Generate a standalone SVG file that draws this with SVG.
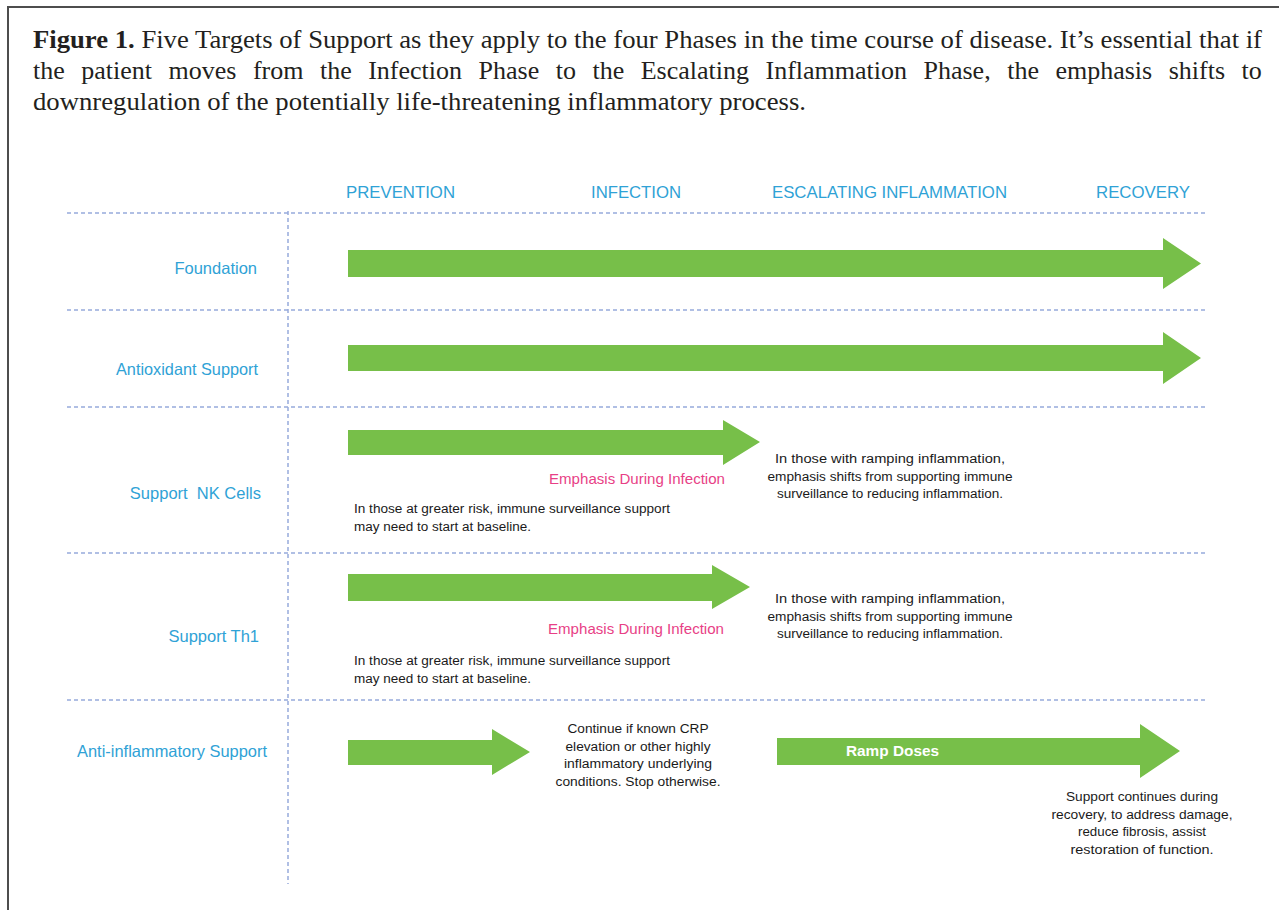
<svg xmlns="http://www.w3.org/2000/svg" width="1279" height="910" viewBox="0 0 1279 910">
  <style>
    .cap { font-family: "Liberation Serif", "Times New Roman", serif; font-size: 26px; fill: #231f20; }
    .phase { font-family: "Liberation Sans", Arial, sans-serif; font-size: 17px; fill: #2fa2d6; }
    .row { font-family: "Liberation Sans", Arial, sans-serif; font-size: 16.5px; fill: #2fa2d6; text-anchor: end; }
    .emph { font-family: "Liberation Sans", Arial, sans-serif; font-size: 15px; fill: #e83f86; }
    .note { font-family: "Liberation Sans", Arial, sans-serif; font-size: 12.5px; fill: #1a1a1a; }
    .mid { text-anchor: middle; }
    .grid { stroke: #96abdc; stroke-width: 1.5; stroke-dasharray: 4 3; fill: none; }
    .arrow { fill: #77bf49; }
    .ramp { font-family: "Liberation Sans", Arial, sans-serif; font-size: 15px; font-weight: bold; fill: #ffffff; }
  </style>

  <rect width="1279" height="910" fill="#ffffff"/>

  <!-- figure frame -->
  <g id="frame" stroke="#4d4d4d" stroke-width="2" fill="none">
    <line x1="7" y1="7" x2="1279" y2="7"/>
    <line x1="8" y1="6" x2="8" y2="910"/>
  </g>

  <!-- caption (justified lines) -->
  <g id="caption">
    <text class="cap" x="33" y="48" textLength="1229" lengthAdjust="spacingAndGlyphs"><tspan font-weight="bold">Figure 1.</tspan> Five Targets of Support as they apply to the four Phases in the time course of disease. It’s essential that if</text>
    <text class="cap" x="33" y="79" word-spacing="10">the patient moves from the Infection Phase to the Escalating Inflammation Phase, the emphasis shifts to</text>
    <text class="cap" x="33" y="110" textLength="773" lengthAdjust="spacingAndGlyphs">downregulation of the potentially life-threatening inflammatory process.</text>
  </g>

  <!-- grid -->
  <g id="grid" class="grid">
    <line x1="67" y1="213" x2="1205" y2="213"/>
    <line x1="67" y1="310" x2="1207" y2="310"/>
    <line x1="67" y1="407" x2="1205" y2="407"/>
    <line x1="67" y1="553" x2="1205" y2="553"/>
    <line x1="67" y1="700" x2="1207" y2="700"/>
    <line x1="288" y1="211" x2="288" y2="884"/>
  </g>

  <!-- phase headings -->
  <g id="phases">
    <text class="phase" x="346" y="198" textLength="109" lengthAdjust="spacingAndGlyphs">PREVENTION</text>
    <text class="phase" x="591" y="198" textLength="90" lengthAdjust="spacingAndGlyphs">INFECTION</text>
    <text class="phase" x="772" y="198" textLength="235" lengthAdjust="spacingAndGlyphs">ESCALATING INFLAMMATION</text>
    <text class="phase" x="1096" y="198" textLength="94" lengthAdjust="spacingAndGlyphs">RECOVERY</text>
  </g>

  <!-- connectors: support arrows -->
  <g id="connectors" class="arrow">
    <path id="arrow-foundation" d="M348,250 H1163 V238 L1201,263.5 L1163,289 V277 H348 Z"/>
    <path id="arrow-antioxidant" d="M348,345 H1163 V332 L1201,358 L1163,384 V371 H348 Z"/>
    <path id="arrow-nk" d="M348,430 H723 V420 L760,442 L723,465 V455 H348 Z"/>
    <path id="arrow-th1" d="M348,574 H712 V565 L750,587 L712,609 V601 H348 Z"/>
    <path id="arrow-anti" d="M348,740 H492 V729 L530,752 L492,775 V765 H348 Z"/>
    <path id="arrow-ramp" d="M777,738 H1140 V724 L1180,751 L1140,778 V765 H777 Z"/>
  </g>

  <!-- row: Foundation -->
  <g id="row-foundation">
    <text class="row" x="257" y="274">Foundation</text>
  </g>

  <!-- row: Antioxidant Support -->
  <g id="row-antioxidant">
    <text class="row" x="258" y="375" textLength="142" lengthAdjust="spacingAndGlyphs">Antioxidant Support</text>
  </g>

  <!-- row: Support NK Cells -->
  <g id="row-nk">
    <text class="row" x="261" y="499" xml:space="preserve">Support  NK Cells</text>
    <text class="emph" x="549" y="484" textLength="176" lengthAdjust="spacingAndGlyphs">Emphasis During Infection</text>
    <text class="note" x="354" y="513" textLength="316" lengthAdjust="spacingAndGlyphs">In those at greater risk, immune surveillance support</text>
    <text class="note" x="354" y="531" textLength="177" lengthAdjust="spacingAndGlyphs">may need to start at baseline.</text>
    <text class="note mid" x="890" y="463" textLength="230" lengthAdjust="spacingAndGlyphs">In those with ramping inflammation,</text>
    <text class="note mid" x="890" y="481" textLength="245" lengthAdjust="spacingAndGlyphs">emphasis shifts from supporting immune</text>
    <text class="note mid" x="890" y="498" textLength="226" lengthAdjust="spacingAndGlyphs">surveillance to reducing inflammation.</text>
  </g>

  <!-- row: Support Th1 -->
  <g id="row-th1">
    <text class="row" x="259" y="642">Support Th1</text>
    <text class="emph" x="548" y="634" textLength="176" lengthAdjust="spacingAndGlyphs">Emphasis During Infection</text>
    <text class="note" x="354" y="665" textLength="316" lengthAdjust="spacingAndGlyphs">In those at greater risk, immune surveillance support</text>
    <text class="note" x="354" y="683" textLength="177" lengthAdjust="spacingAndGlyphs">may need to start at baseline.</text>
    <text class="note mid" x="890" y="603" textLength="230" lengthAdjust="spacingAndGlyphs">In those with ramping inflammation,</text>
    <text class="note mid" x="890" y="621" textLength="245" lengthAdjust="spacingAndGlyphs">emphasis shifts from supporting immune</text>
    <text class="note mid" x="890" y="638" textLength="226" lengthAdjust="spacingAndGlyphs">surveillance to reducing inflammation.</text>
  </g>

  <!-- row: Anti-inflammatory Support -->
  <g id="row-anti">
    <text class="row" x="267" y="757" textLength="190" lengthAdjust="spacingAndGlyphs">Anti-inflammatory Support</text>
    <text class="note mid" x="638" y="733" textLength="141" lengthAdjust="spacingAndGlyphs">Continue if known CRP</text>
    <text class="note mid" x="638" y="751" textLength="145" lengthAdjust="spacingAndGlyphs">elevation or other highly</text>
    <text class="note mid" x="638" y="768" textLength="148" lengthAdjust="spacingAndGlyphs">inflammatory underlying</text>
    <text class="note mid" x="638" y="786" textLength="165" lengthAdjust="spacingAndGlyphs">conditions. Stop otherwise.</text>
    <text class="ramp" x="846" y="756" textLength="93" lengthAdjust="spacingAndGlyphs">Ramp Doses</text>
    <text class="note mid" x="1142" y="801" textLength="152" lengthAdjust="spacingAndGlyphs">Support continues during</text>
    <text class="note mid" x="1142" y="819" textLength="181" lengthAdjust="spacingAndGlyphs">recovery, to address damage,</text>
    <text class="note mid" x="1142" y="836" textLength="128" lengthAdjust="spacingAndGlyphs">reduce fibrosis, assist</text>
    <text class="note mid" x="1142" y="854" textLength="143" lengthAdjust="spacingAndGlyphs">restoration of function.</text>
  </g>
</svg>
